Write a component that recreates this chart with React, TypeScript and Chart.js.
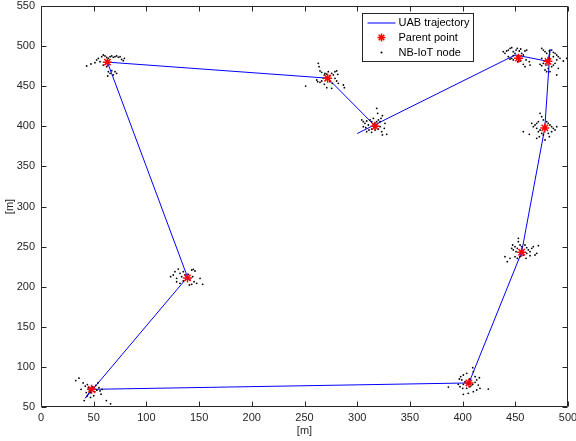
import React, { useEffect, useRef } from "react";
import { Chart, registerables } from "chart.js";

Chart.register(...registerables);

const X_TICKS = [0, 50, 100, 150, 200, 250, 300, 350, 400, 450, 500];
const Y_TICKS = [50, 100, 150, 200, 250, 300, 350, 400, 450, 500, 550];

// UAB trajectory waypoints
const trajX = [300, 450, 481, 483, 478, 456, 406, 48, 42, 139, 63, 272, 315];
const trajY = [391, 489, 481, 496, 398, 243, 80, 72, 61, 212, 480, 460, 403];

// Parent points
const parentX = [48, 139, 63, 272, 317, 453, 481, 478, 456, 406];
const parentY = [72, 211, 480, 460, 400, 485, 481, 398, 243, 80];

// NB-IoT nodes, one list per cluster
const nodes1: [number, number][] = [
  [33, 83], [36, 86], [40, 80], [42, 76], [44, 78], [45, 74], [46, 70], [47, 68], [49, 75], [50, 73],
  [51, 69], [52, 77], [53, 71], [55, 74], [56, 70], [57, 66], [44, 64], [47, 62], [50, 64], [43, 68],
  [54, 80], [58, 72], [62, 58], [66, 54], [41, 58], [38, 72],
];
const nodes2: [number, number][] = [
  [123, 212.5], [125.5, 214.6], [127.1, 218.7], [128.7, 210.4], [130.3, 222], [131.9, 216.7], [133.5, 212.5],
  [135, 218.7], [136.6, 214.6], [138.2, 210.4], [139.8, 215.4], [141.4, 208.3], [143, 220.8], [144.5, 221.7],
  [146.1, 219.6], [143.9, 212.5], [145.2, 206.2], [147.7, 204.2], [150.9, 210.4], [153.4, 203], [128.7, 206.2],
  [131.9, 204.2], [135, 207.1], [140.8, 202.1], [143, 202.9],
];
const nodes3: [number, number][] = [
  [43.3, 475.2], [47.4, 477.7], [51.2, 479.3], [52.8, 482.7], [54.4, 484.8], [56, 480.6], [57.6, 486.8],
  [59.1, 488.9], [60.7, 487.7], [62.3, 486], [63.9, 484.8], [65.5, 486.8], [67.1, 487.7], [68.6, 486],
  [70.2, 486.8], [71.8, 487.7], [73.4, 486], [75, 486.8], [76.5, 483.5], [79.1, 484.8], [78.1, 481.8],
  [59.1, 476.4], [62.3, 474.3], [63.9, 468.1], [65.5, 466.1], [67.1, 469.4], [70.2, 468.1], [68.6, 464],
  [71.8, 466.1], [63.3, 462.7],
];
const nodes4: [number, number][] = [
  [263.1, 478.5], [263.8, 474.3], [264.7, 469], [266.3, 467.3], [261.6, 457.7], [262.5, 455.6], [264.7, 454.8],
  [266.3, 456.5], [267.9, 459.8], [268.8, 464], [269.5, 466.1], [271.1, 465], [272.6, 468.1], [274.2, 463.1],
  [275.8, 466.1], [277.4, 464], [278.9, 468.1], [280.5, 469], [281.5, 464.8], [278.9, 459.8], [280.5, 456.5],
  [276.4, 453.6], [275.8, 447.4], [271.1, 448.1], [282.1, 453.6], [286.9, 451.5], [287.8, 448.1], [251.1, 450.2],
  [268.8, 452.3], [274.2, 455.6],
];
const nodes5: [number, number][] = [
  [318.5, 422.4], [319.4, 416.2], [304.3, 407.9], [305.8, 405.8], [307.4, 403.7], [309, 406.6], [310.6, 401.6],
  [312.2, 407.9], [313.7, 405.8], [315.3, 410], [316.3, 403.7], [318.5, 405.8], [320.1, 407.9], [321.7, 405.8],
  [322.6, 410], [323.9, 413.3], [321.7, 399.5], [320.1, 396.6], [316.9, 395.4], [313.7, 396.6], [311.2, 395.4],
  [308.1, 398.3], [305.8, 399.5], [325.7, 397.5], [328, 390], [323.9, 389.2], [309, 393.3], [313.7, 392.5],
  [326.4, 403.7], [323.2, 393.3],
];
const nodes6: [number, number][] = [
  [438.6, 493], [440.2, 491], [441.8, 493.9], [443.4, 495.1], [445, 497.2], [446.6, 498], [448.1, 493],
  [449.7, 491], [450.7, 495.1], [451.9, 497.2], [453.8, 493.9], [455.1, 496.4], [456.1, 491], [457.6, 488.9],
  [459.2, 493.9], [460.8, 495.1], [443.4, 486.8], [445, 483.9], [446.6, 484.8], [448.1, 482.7], [452.3, 480.6],
  [454.5, 481.4], [457.6, 477.3], [459.2, 474.3], [463.3, 480.6], [464, 476.4], [448.1, 488], [460.2, 482.7],
];
const nodes7: [number, number][] = [
  [475.1, 497.2], [476.6, 495.1], [478.2, 493], [479.8, 491], [482.3, 493.9], [484.5, 495.1], [486.1, 492.3],
  [487.7, 491], [489.3, 488.9], [490.8, 486.8], [492.4, 484.8], [489.3, 482.7], [487.7, 478.5], [486.1, 476.4],
  [484.5, 474.3], [481.3, 472.3], [479.1, 476.4], [476.6, 478.5], [475.1, 475.6], [473.5, 477.3], [478.2, 470.2],
  [479.8, 468.1], [475.1, 484.8], [498.8, 484.8], [495.6, 481.4], [490.8, 472.3], [489.3, 464], [482.9, 468.1],
  [486.1, 486.8],
];
const nodes8: [number, number][] = [
  [473.5, 416.2], [475.1, 412], [476.6, 407.9], [471.9, 405.8], [470.3, 403.7], [468.7, 401.6], [467.1, 399.5],
  [465.6, 403.7], [470.3, 397.5], [473.5, 395.4], [471.9, 393.3], [475.1, 391.3], [476.6, 389.2], [472.8, 387.1],
  [470.3, 385], [479.8, 405.8], [481.3, 403.7], [482.9, 401.6], [484.5, 399.5], [486.1, 397.5], [487.7, 395.4],
  [484.5, 393.3], [481.3, 391.3], [482.3, 387.1], [489.3, 399.5], [457.6, 393.3], [463.3, 390], [478.2, 382.9],
];
const nodes9: [number, number][] = [
  [452.9, 260.3], [452.9, 256.1], [447.5, 252], [449.7, 249.9], [446.6, 247.9], [448.1, 245.8], [450.7, 243.7],
  [451.9, 247.9], [454.5, 252], [456.1, 249.9], [459.2, 252], [460.8, 248.7], [462.4, 245.8], [464, 243.7],
  [465.6, 247.9], [467.1, 249.9], [470.3, 241.6], [468.7, 239.5], [471.9, 251.1], [460.8, 241.6], [457.6, 239.5],
  [454.5, 237.4], [451.9, 235.4], [449.7, 237.4], [445, 235.4], [442.4, 231.2], [440.2, 237.4], [460.2, 235.4],
  [464, 238.7],
];
const nodes10: [number, number][] = [
  [409.6, 99], [410.2, 94], [403.9, 92], [400.7, 89.9], [398.2, 87.8], [396.9, 84.9], [399.2, 83.7],
  [402.3, 81.6], [400.7, 78.3], [395.9, 78.3], [397.5, 75.3], [400.1, 73.3], [403.9, 73.3], [407, 75.3],
  [409.6, 78.3], [411.8, 80.8], [413.4, 83.7], [415.9, 86.5], [414.9, 77.4], [416.5, 73.3], [413.4, 71.2],
  [410.2, 69.1], [405.4, 67.1], [400.7, 65.8], [424.4, 72.4], [386.5, 74.9], [406.7, 84.9], [411.8, 87.8],
];

const LABELS = ["UAB trajectory", "Parent point", "NB-IoT node"];
const FONT = "'Liberation Sans', Arial, Helvetica, sans-serif";
const TEXT = "#262626";

const boxPlugin = {
  id: "matlabBox",
  afterDraw(chart: any) {
    const { ctx, chartArea } = chart;
    const { left, right, top, bottom } = chartArea;
    const xs = chart.scales.x;
    const ys = chart.scales.y;
    ctx.save();
    ctx.strokeStyle = TEXT;
    ctx.lineWidth = 1;
    const L = Math.round(left) + 0.5;
    const R = Math.round(right) - 0.5;
    const T = Math.round(top) + 0.5;
    const B = Math.round(bottom) - 0.5;
    ctx.beginPath();
    ctx.rect(L, T, R - L, B - T);
    ctx.stroke();
    const tl = 5;
    ctx.beginPath();
    for (const t of xs.ticks) {
      const p = Math.round(xs.getPixelForValue(t.value)) + 0.5;
      ctx.moveTo(p, B);
      ctx.lineTo(p, B - tl);
      ctx.moveTo(p, T);
      ctx.lineTo(p, T + tl);
    }
    for (const t of ys.ticks) {
      const p = Math.round(ys.getPixelForValue(t.value)) + 0.5;
      ctx.moveTo(L, p);
      ctx.lineTo(L + tl, p);
      ctx.moveTo(R, p);
      ctx.lineTo(R - tl, p);
    }
    ctx.stroke();

    // legend
    const bw = 111;
    const bh = 48;
    const bx = Math.round(right) - 95 - bw + 0.5;
    const by = Math.round(top) + 7 + 0.5;
    ctx.fillStyle = "#ffffff";
    ctx.fillRect(bx, by, bw, bh);
    ctx.strokeStyle = TEXT;
    ctx.strokeRect(bx, by, bw, bh);
    ctx.font = `11px ${FONT}`;
    ctx.fillStyle = "#000000";
    ctx.textBaseline = "middle";
    ctx.textAlign = "left";
    const rowY = [by + 9.5, by + 24, by + 39];
    const tx = bx + 36;
    ctx.strokeStyle = "rgba(60,60,255,0.9)";
    ctx.lineWidth = 1.5;
    ctx.beginPath();
    ctx.moveTo(bx + 5, Math.round(rowY[0]));
    ctx.lineTo(bx + 33, Math.round(rowY[0]));
    ctx.stroke();
    ctx.fillText(LABELS[0], tx, rowY[0]);
    const sx = bx + 19;
    const r = 4;
    ctx.strokeStyle = "rgb(255,0,0)";
    ctx.lineWidth = 1.5;
    ctx.beginPath();
    for (let k = 0; k < 4; k++) {
      const a = (k * Math.PI) / 4;
      ctx.moveTo(sx - r * Math.cos(a), rowY[1] - r * Math.sin(a));
      ctx.lineTo(sx + r * Math.cos(a), rowY[1] + r * Math.sin(a));
    }
    ctx.stroke();
    ctx.fillText(LABELS[1], tx, rowY[1]);
    ctx.beginPath();
    ctx.arc(sx, rowY[2], 1, 0, Math.PI * 2);
    ctx.fill();
    ctx.fillText(LABELS[2], tx, rowY[2]);
    ctx.restore();
  },
};

export default function App() {
  const ref = useRef<HTMLCanvasElement | null>(null);
  useEffect(() => {
    document.body.style.margin = "0";
    const canvas = ref.current!;
    const allNodes = [nodes1, nodes2, nodes3, nodes4, nodes5, nodes6, nodes7, nodes8, nodes9, nodes10]
      .flat()
      .map(([x, y]) => ({ x, y }));
    const chart = new Chart(canvas, {
      type: "scatter",
      data: {
        datasets: [
          {
            label: LABELS[1],
            data: parentX.map((x, i) => ({ x, y: parentY[i] })),
            pointStyle: "star",
            pointRadius: 4.5,
            borderColor: "rgb(255,0,0)",
            backgroundColor: "rgb(255,0,0)",
            borderWidth: 1.5,
            order: 0,
          },
          {
            label: LABELS[2],
            data: allNodes,
            pointStyle: "circle",
            pointRadius: 0.9,
            borderWidth: 0,
            backgroundColor: "#000000",
            order: 1,
          },
          {
            label: LABELS[0],
            data: trajX.map((x, i) => ({ x, y: trajY[i] })),
            showLine: true,
            pointRadius: 0,
            borderColor: "rgb(0,0,255)",
            borderWidth: 1,
            order: 2,
          } as any,
        ],
      },
      options: {
        animation: false,
        responsive: false,
        layout: { padding: { top: 6, right: 8, left: 0, bottom: 0 } },
        plugins: { legend: { display: false }, tooltip: { enabled: false } },
        scales: {
          x: {
            type: "linear",
            min: 0,
            max: 500,
            afterBuildTicks: (s: any) => {
              s.ticks = X_TICKS.map((v) => ({ value: v }));
            },
            afterFit: (s: any) => {
              s.height = 34;
              s.paddingLeft = 0;
              s.paddingRight = 0;
            },
            grid: { display: false, drawTicks: false },
            border: { display: false },
            ticks: { color: TEXT, font: { family: FONT, size: 11 }, padding: 4, maxRotation: 0 },
            title: {
              display: true,
              text: "[m]",
              color: TEXT,
              font: { family: FONT, size: 11 },
              padding: { top: 0, bottom: 3 },
            },
          },
          y: {
            type: "linear",
            min: 50,
            max: 550,
            afterBuildTicks: (s: any) => {
              s.ticks = Y_TICKS.map((v) => ({ value: v }));
            },
            afterFit: (s: any) => {
              s.width = 41;
              s.paddingTop = 0;
              s.paddingBottom = 0;
            },
            grid: { display: false, drawTicks: false },
            border: { display: false },
            ticks: { color: TEXT, font: { family: FONT, size: 11 }, padding: 6 },
            title: {
              display: true,
              text: "[m]",
              color: TEXT,
              font: { family: FONT, size: 11 },
              padding: { top: 3, bottom: 0 },
            },
          },
        },
      },
      plugins: [boxPlugin],
    });
    return () => chart.destroy();
  }, []);
  return (
    <div style={{ width: 576, height: 441, position: "relative", background: "#fff" }}>
      <canvas ref={ref} width={576} height={441} style={{ width: 576, height: 441, display: "block" }} />
    </div>
  );
}
